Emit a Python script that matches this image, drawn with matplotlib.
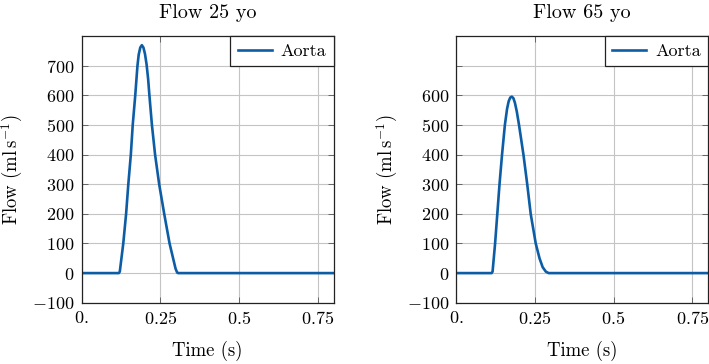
import matplotlib
matplotlib.use("Agg")
import matplotlib.pyplot as plt

plt.rcParams['font.family'] = 'serif'
plt.rcParams['font.serif'] = ['cmr10']
plt.rcParams['mathtext.fontset'] = 'cm'
plt.rcParams['axes.unicode_minus'] = False
plt.rcParams['font.size'] = 13

# Data
t_25 = [0.0, 0.118, 0.121, 0.132, 0.141, 0.148, 0.156, 0.162, 0.170, 0.177, 0.181,
        0.186, 0.191, 0.196, 0.201, 0.206, 0.211, 0.215, 0.223, 0.233, 0.246, 0.262,
        0.279, 0.298, 0.303, 0.306, 0.8]
q_25 = [0, 0, 5, 100, 200, 300, 400, 500, 600, 700, 738,
        762, 770, 762, 740, 705, 655, 600, 500, 400, 300, 200,
        100, 15, 2, 0, 0]

t_65 = [0.0, 0.113, 0.116, 0.124, 0.131, 0.138, 0.146, 0.155, 0.162, 0.167, 0.172,
        0.177, 0.182, 0.187, 0.193, 0.200, 0.214, 0.226, 0.237, 0.253, 0.265,
        0.275, 0.285, 0.294, 0.8]
q_65 = [0, 0, 5, 100, 200, 300, 400, 500, 555, 580, 593,
        596, 591, 575, 545, 500, 400, 300, 200, 100, 50,
        20, 5, 0, 0]

titles = ['Flow 25 yo', 'Flow 65 yo']
xticks = [0.0, 0.25, 0.5, 0.75]
xticklabels = ['$0.$', '$0.25$', '$0.5$', '$0.75$']
yticks = [-100, 0, 100, 200, 300, 400, 500, 600, 700]
yticklabels_25 = ['$-100$', '$0$', '$100$', '$200$', '$300$', '$400$', '$500$', '$600$', '$700$']
yticklabels_65 = ['$-100$', '$0$', '$100$', '$200$', '$300$', '$400$', '$500$', '$600$', '']

color = '#0c5da5'

fig = plt.figure(figsize=(7.09, 3.64), dpi=100)
positions = [[0.1152, 0.1684, 0.3555, 0.7319], [0.6432, 0.1684, 0.3555, 0.7319]]
datasets = [(t_25, q_25, yticklabels_25), (t_65, q_65, yticklabels_65)]

for pos, (t, q, ylabs), title in zip(positions, datasets, titles):
    ax = fig.add_axes(pos)
    ax.plot(t, q, color=color, lw=1.9, label='Aorta', solid_joinstyle='round')
    ax.set_xlim(0, 0.8)
    ax.set_ylim(-100, 800)
    ax.set_xticks(xticks)
    ax.set_xticklabels(xticklabels)
    ax.set_yticks(yticks)
    ax.set_yticklabels(ylabs)
    ax.grid(True, color='#c4c4c4', lw=0.8)
    ax.set_axisbelow(True)
    ax.tick_params(direction='in', top=True, right=True, length=4, width=0.6,
                   color='#555555', labelsize=13, pad=5)
    for s in ax.spines.values():
        s.set_linewidth(0.9)
        s.set_color('#222222')
    ax.set_title(title, pad=13, fontsize=14.5)
    ax.set_xlabel('Time (s)', labelpad=10, fontsize=13.5)
    ax.set_ylabel(r'Flow (ml$\,$s$^{-1}$)', labelpad=5, fontsize=13.5)
    leg = ax.legend(loc='upper right', borderaxespad=0, fancybox=False,
                    edgecolor='#222222', framealpha=1, handlelength=1.9,
                    borderpad=0.4, handletextpad=0.5, fontsize=13)
    leg.get_frame().set_linewidth(0.9)

fig.savefig('out.png', dpi=100)
